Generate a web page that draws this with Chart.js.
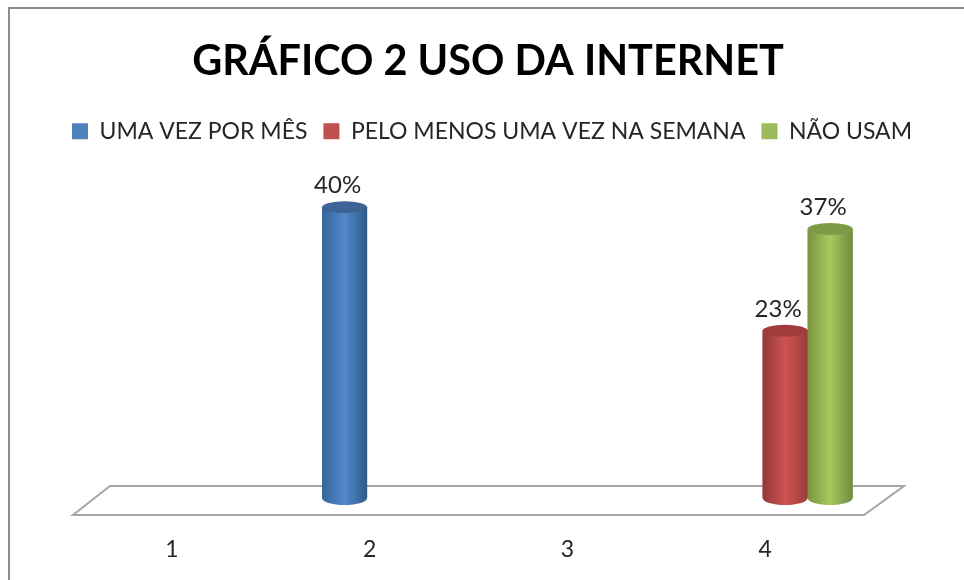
<!DOCTYPE html>
<html>
<head>
<meta charset="utf-8">
<title>Gráfico 2</title>
<script src="https://cdn.jsdelivr.net/npm/chart.js@4"></script>
<style>
  html, body { margin: 0; padding: 0; background: #fff; }
  canvas { display: block; }
</style>
</head>
<body>
<canvas id="myChart" width="964" height="580"></canvas>
<script>
var categories = ['1', '2', '3', '4'];
var umaVez = [null, 40, null, null];
var peloMenos = [null, null, null, 23];
var naoUsam = [null, null, null, 37];
var seriesNames = ['UMA VEZ POR MÊS', 'PELO MENOS UMA VEZ NA SEMANA', 'NÃO USAM'];

var legendColors = ['#4f81bd', '#c0504d', '#9bbb59'];
// left edge, middle, right edge of each cylinder, then the top cap
var shades = [
    ['#35659a', '#5289cc', '#2f5a88', '#3c6494'],
    ['#8f3a38', '#cf5351', '#9a3e3c', '#a23c3a'],
    ['#79943f', '#a7c95e', '#6f8a3f', '#7d9a47']
];
var FONT = 'Lato, "Noto Sans", sans-serif';

// chart border and the floor of the 3D plot
var backdrop = {
    id: 'backdrop',
    // legend sits a little right of the title in the original
    afterLayout: function(chart) {
        chart.legend.left += 4;
        chart.legend.right += 4;
    },
    beforeDatasetsDraw: function(chart) {
        var c = chart.ctx, a = chart.chartArea;
        c.save();
        c.strokeStyle = '#8c8c8c';
        c.lineWidth = 2;
        c.beginPath();
        c.moveTo(9, 580);
        c.lineTo(9, 8);
        c.lineTo(964, 8);
        c.stroke();
        c.strokeStyle = '#a6a6a6';
        c.beginPath();
        c.moveTo(a.left - 20, a.bottom + 17);
        c.lineTo(a.right - 20, a.bottom + 17);
        c.lineTo(a.right + 20, a.bottom - 12);
        c.lineTo(a.left + 17, a.bottom - 12);
        c.closePath();
        c.stroke();
        c.restore();
    }
};

// turns each flat bar into a cylinder and writes its label
var cylinders = {
    id: 'cylinders',
    afterDatasetDraw: function(chart, args) {
        var c = chart.ctx, i = args.index;
        args.meta.data.forEach(function(bar, n) {
            var value = chart.data.datasets[i].data[n];
            if (value === null) return;
            var rx = bar.width / 2;
            var g = c.createLinearGradient(bar.x - rx, 0, bar.x + rx, 0);
            g.addColorStop(0, shades[i][0]);
            g.addColorStop(0.5, shades[i][1]);
            g.addColorStop(1, shades[i][2]);
            c.save();
            c.fillStyle = g;
            c.fillRect(bar.x - rx, bar.y, bar.width, bar.base - bar.y);
            c.beginPath();
            c.ellipse(bar.x, bar.base, rx, 7, 0, 0, Math.PI);
            c.fill();
            c.fillStyle = shades[i][3];
            c.beginPath();
            c.ellipse(bar.x, bar.y, rx, 6, 0, 0, Math.PI * 2);
            c.fill();
            c.fillStyle = '#262626';
            c.font = '24px ' + FONT;
            c.textAlign = 'center';
            c.textBaseline = 'middle';
            c.fillText(value + '%', bar.x - 7, bar.y - 22);
            c.restore();
        });
    }
};

function makeDataset(i, values) {
    return {
        label: seriesNames[i],
        data: values,
        backgroundColor: legendColors[i],
        borderWidth: 0,
        barPercentage: 1,
        categoryPercentage: 0.683
    };
}

var ctx = document.getElementById('myChart').getContext('2d');
var myChart = new Chart(ctx, {
    type: 'bar',
    data: {
        labels: categories,
        datasets: [makeDataset(0, umaVez), makeDataset(1, peloMenos), makeDataset(2, naoUsam)]
    },
    plugins: [backdrop, cylinders],
    options: {
        responsive: false,
        animation: false,
        layout: { padding: { left: 12, right: 0, top: 0, bottom: 0 } },
        scales: {
            x: {
                grid: { display: false },
                border: { display: false },
                ticks: { color: '#262626', font: { family: FONT, size: 23 }, padding: 30, labelOffset: -20, maxRotation: 0 },
                afterFit: function(scale) { scale.height = 82; }
            },
            y: {
                min: 0,
                max: 47.5,
                grid: { display: false },
                border: { display: false },
                ticks: { display: false },
                afterFit: function(scale) { scale.width = 81; }
            },
            yRight: {
                display: true,
                position: 'right',
                grid: { display: false },
                border: { display: false },
                ticks: { display: false },
                afterFit: function(scale) { scale.width = 80; }
            }
        },
        plugins: {
            title: {
                display: true,
                text: 'GRÁFICO 2 USO DA INTERNET',
                color: '#000',
                font: { family: FONT, size: 41.4, weight: 'bold' },
                padding: { top: 37, bottom: 17 }
            },
            legend: {
                display: true,
                labels: {
                    color: '#262626',
                    font: { family: FONT, size: 23 },
                    boxWidth: 16,
                    boxHeight: 16,
                    padding: 16
                }
            },
            tooltip: { enabled: false }
        }
    }
});
</script>
</body>
</html>
